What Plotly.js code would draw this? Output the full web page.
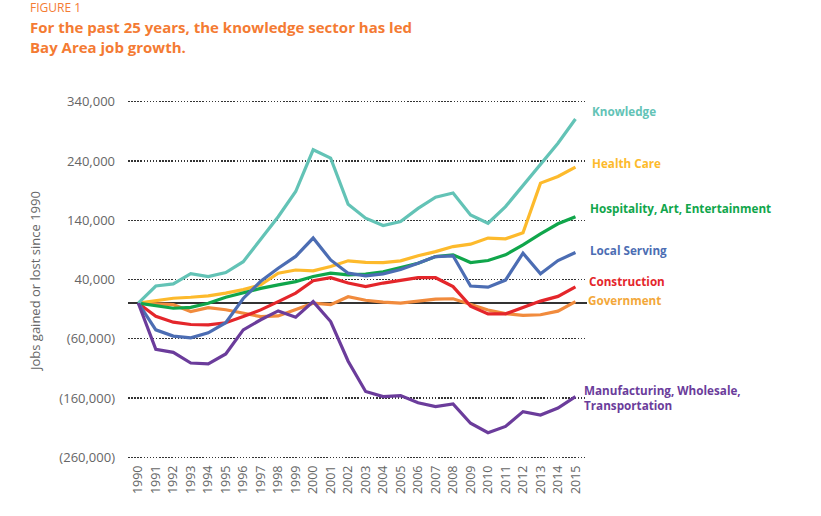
<!DOCTYPE html>
<html><head><meta charset="utf-8">
<script src="https://cdn.plot.ly/plotly-3.0.1.min.js"></script>
<style>html,body{margin:0;padding:0;background:#fff}#chart{width:821px;height:516px}</style>
</head><body><div id="chart"></div>
<script>
const years = [1990,1991,1992,1993,1994,1995,1996,1997,1998,1999,2000,2001,2002,2003,2004,2005,2006,2007,2008,2009,2010,2011,2012,2013,2014,2015];

const knowledge     = [0,29000,32600,50000,45000,51700,70000,107000,146000,188500,259000,245000,167000,143600,131000,138000,160000,179000,186000,149000,135000,163000,198000,233600,270000,311000];
const healthCare    = [0,4500,8400,10000,12300,17000,23000,31000,50700,56000,54500,62000,71500,69000,68600,71500,80000,87000,95600,99600,110000,108600,119000,202700,214000,229700];
const hospitality   = [0,-4500,-8500,-7000,0,10000,18000,25000,31000,36500,45000,50700,47800,49000,53000,60000,67500,78700,81600,68600,72000,81600,98500,117000,134000,146000];
const localServing  = [0,-45000,-55500,-58500,-50000,-33000,8000,37000,59000,79000,110000,73000,50700,46000,49500,57000,67500,78700,80000,29000,27000,39000,84400,49500,72000,85500];
const construction  = [0,-22000,-32000,-36000,-36700,-33000,-22600,-11300,2700,17000,38000,43000,34000,28000,34000,38500,43000,43000,28000,-5000,-18000,-18000,-7500,3500,11500,27500];
const government    = [0,-1000,-2500,-14000,-7400,-11000,-17000,-22600,-21500,-11300,0,-2500,11000,5000,1800,0,3000,7000,7500,-1500,-11500,-17500,-20700,-19500,-13500,2700];
const manufacturing = [0,-77700,-83000,-101000,-102500,-85600,-45000,-28000,-13000,-23600,2700,-31000,-98000,-149000,-157700,-156000,-168000,-174600,-170000,-202700,-218600,-208000,-183000,-188700,-177000,-157700];

const seriesNames  = ["Knowledge","Health Care","Hospitality, Art, Entertainment","Local Serving","Construction","Government","Manufacturing, Wholesale,<br>Transportation"];
const seriesValues = [knowledge,healthCare,hospitality,localServing,construction,government,manufacturing];
const lineColors   = ["#63C3B6","#FDBA2C","#10A64B","#4C6DB3","#E4262B","#F18B3D","#6B3C9B"];
const labelColors  = ["#63C3B6","#FDBA2C","#10A64B","#4C6DB3","#E4262B","#F3A83A","#6B3C9B"];
// label anchor positions (paper coordinates of the plot area)
const labelPX = [1.0065,1.0065,1.0022,1.0022,1.0,0.9978,0.989];
const labelPY = [0.9694,0.8245,0.6992,0.5822,0.4958,0.4429,0.1713];

const yTickVals = [340000,240000,140000,40000,-60000,-160000,-260000];
const yTickText = ["340,000","240,000","140,000","40,000","(60,000)","(160,000)","(260,000)"];

const FONT = "'Open Sans', Lato, sans-serif";
const ORANGE = "#F47B33";

const traces = seriesValues.map((v,i)=>({
  x: years, y: v, type:"scatter", mode:"lines", name: seriesNames[i].replace("<br>"," "),
  line:{color:lineColors[i], width:3.2}, hoverinfo:"skip"
}));
const order = [5,4,1,2,3,0,6];
const data = order.map(i=>traces[i]);

const annotations = seriesNames.map((n,i)=>({
  x: labelPX[i], y: labelPY[i], xref:"paper", yref:"paper", text:"<b>"+n+"</b>",
  showarrow:false, xanchor:"left", yanchor:"middle", align:"left",
  font:{family:FONT, size:11.7, color:labelColors[i]}
}));
annotations.push({
  xref:"paper", yref:"paper", x:-0.2179, y:(459-7.5)/359, xanchor:"left", yanchor:"middle",
  text:"FIGURE 1", showarrow:false, font:{family:FONT, size:12, color:ORANGE}
});
annotations.push({
  xref:"paper", yref:"paper", x:-0.2179, y:(459-37)/359, xanchor:"left", yanchor:"middle", align:"left",
  text:"<b>For the past 25 years, the knowledge sector has led<br>Bay Area job growth.</b>", showarrow:false,
  font:{family:FONT, size:15, color:ORANGE}
});
annotations.push({
  xref:"paper", yref:"paper", x:(35-128)/459, y:(459-282)/359, xanchor:"center", yanchor:"middle",
  textangle:-90, text:"Jobs gained or lost since 1990", showarrow:false,
  font:{family:FONT, size:13, color:"#666"}
});

const layout = {
  width:821, height:516,
  margin:{l:128, r:234, t:100, b:57},
  paper_bgcolor:"#fff", plot_bgcolor:"#fff",
  showlegend:false,
  xaxis:{
    range:[1989.41, 2015.66], tickmode:"array", tickvals:years, ticktext:years.map(String),
    tickangle:-90, showgrid:false, zeroline:false, showline:false, ticks:"",
    tickfont:{family:FONT, size:12.5, color:"#666"}, ticklabelstandoff:3
  },
  yaxis:{
    range:[-263000, 343000], tickmode:"array", tickvals:yTickVals, ticktext:yTickText,
    showgrid:true, gridcolor:"#333", griddash:"1.5px,1.6px", gridwidth:1.4,
    zeroline:true, zerolinecolor:"#333", zerolinewidth:1.6, showline:false, ticks:"",
    tickfont:{family:FONT, size:13, color:"#666"}, ticklabelstandoff:12
  },
  annotations: annotations
};
Plotly.newPlot("chart", data, layout, {staticPlot:true, displayModeBar:false});
</script></body></html>
